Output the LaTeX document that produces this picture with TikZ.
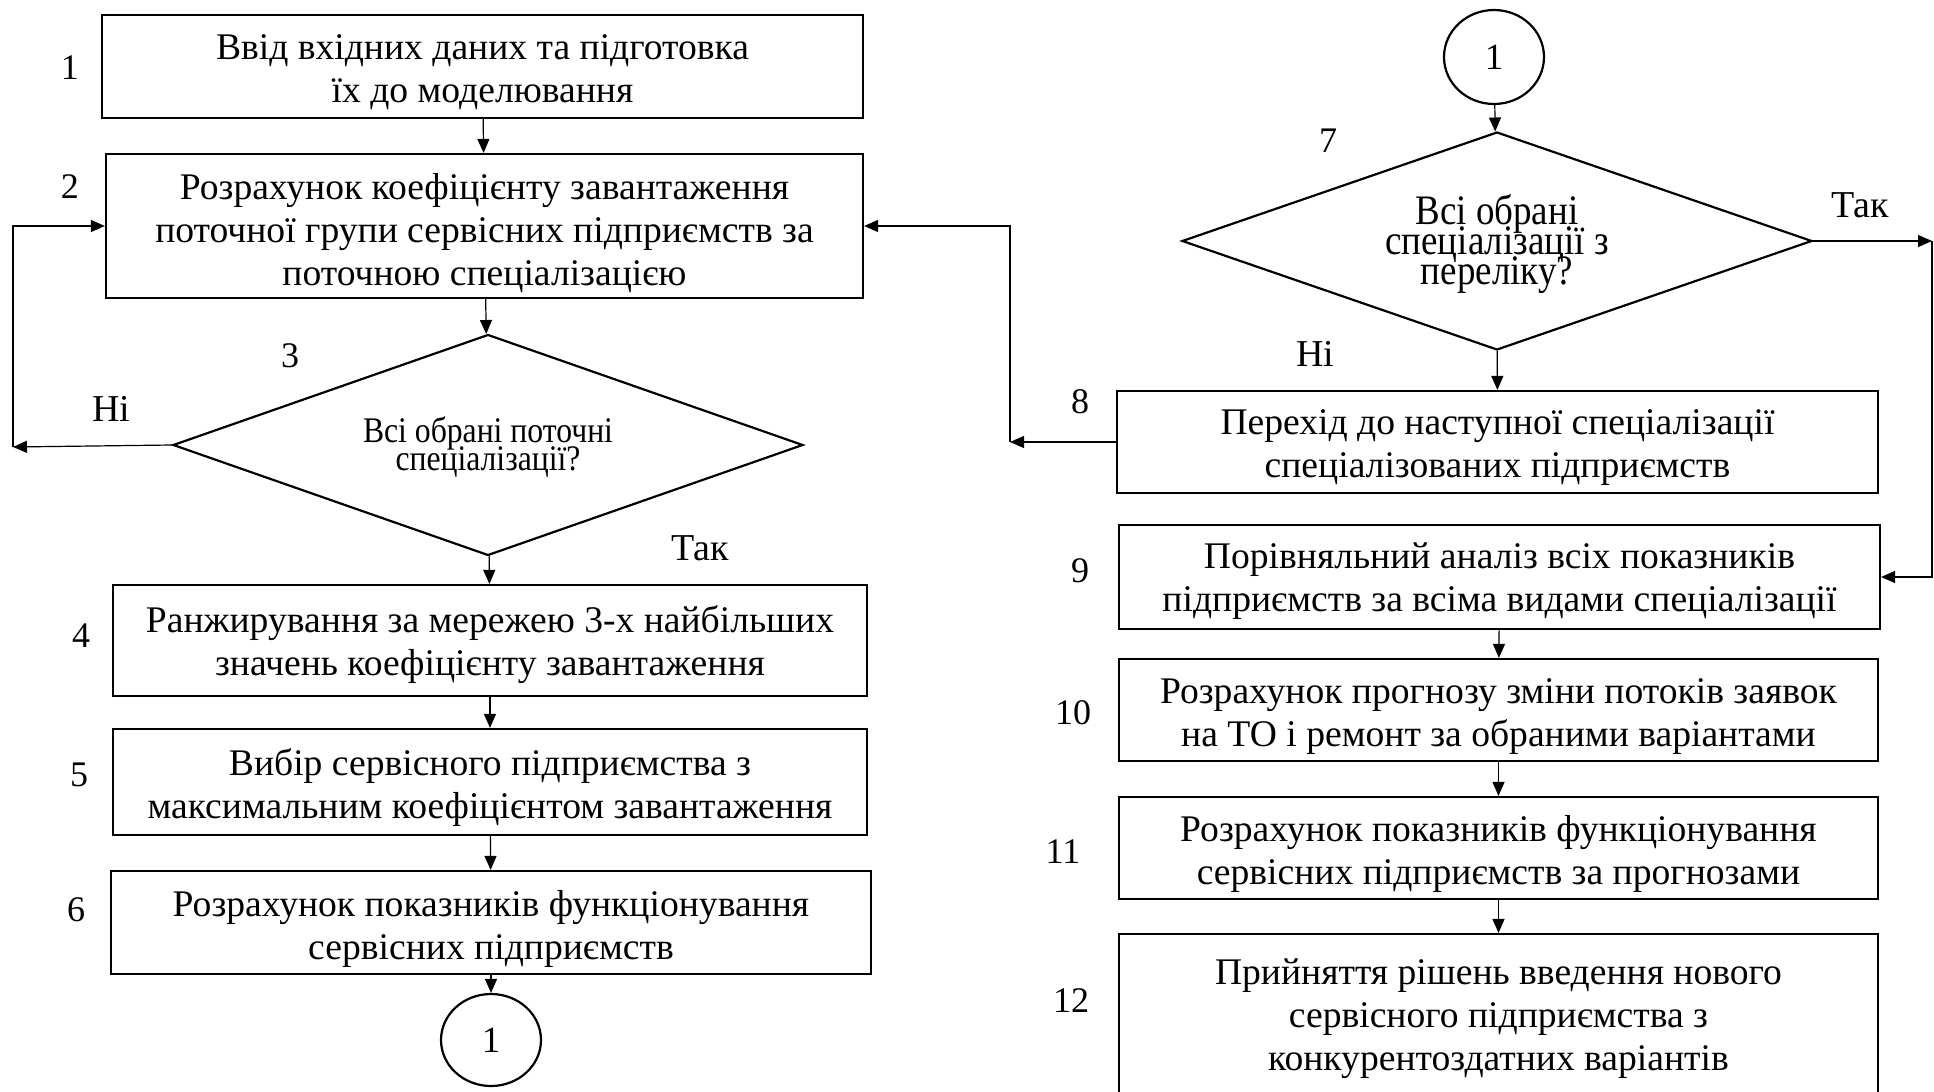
\documentclass[tikz,border=0pt]{standalone}
\usepackage{fontspec}
\setmainfont{Liberation Serif}
\newfontfamily\condfont[FakeStretch=0.88]{Liberation Serif}
\usetikzlibrary{shapes.geometric,arrows.meta,calc}
\newcommand\mytightls{\lineskiplimit=-30pt\relax\lineskip=0pt\relax}
\begin{document}
\begin{tikzpicture}[x=0.5pt,y=-0.5pt,
  box/.style={draw,line width=1.1pt,inner sep=0pt},
  txt/.style={inner sep=0pt,align=center,font=\fontsize{18.8}{21.5}\selectfont},
  dia/.style={draw,diamond,line width=1.1pt,inner sep=0pt,aspect=2.85},
  dtxt/.style={inner sep=0pt,align=center},
  circ/.style={draw,ellipse,line width=1.1pt,inner sep=0pt,font=\fontsize{18.5}{21.5}\selectfont},
  arr/.style={line width=0.6pt,-{Triangle[length=7pt,width=6pt]}},
  num/.style={font=\fontsize{18}{21}\selectfont,inner sep=0pt},
  lbl/.style={font=\fontsize{19}{22}\selectfont,inner sep=0pt}]
\useasboundingbox (0,0) rectangle (1934,1092);
\begin{scope}
\clip (0,0) rectangle (1934,1092);
% left column
\node[box,minimum width=380.5pt,minimum height=51.5pt] (b1) at (482.5,66.5) {};
\node[txt] (b1t) at ($(b1)+(0,6)$) {Ввід вхідних даних та підготовка\\їх до моделювання};
\node[box,minimum width=378.5pt,minimum height=72pt] (b2) at (484.5,226) {};
\node[txt] (b2t) at ($(b2)+(0,7)$) {Розрахунок коефіцієнту завантаження\\поточної групи сервісних підприємств за\\поточною спеціалізацією};
\node[dia,minimum width=315pt,minimum height=110.5pt] (d3) at (488,445) {};
\node[dtxt,font=\condfont\fontsize{18}{14}\selectfont\mytightls] (d3t) at ($(d3)+(0,2)$) {Всі обрані поточні\\спеціалізації?};
\node[box,minimum width=377pt,minimum height=55.5pt] (b4) at (490,640.5) {};
\node[txt] (b4t) at ($(b4)+(0,4)$) {Ранжирування за мережею 3-х найбільших\\значень коефіцієнту завантаження};
\node[box,minimum width=377pt,minimum height=53pt] (b5) at (490,782) {};
\node[txt] (b5t) at ($(b5)+(0,6)$) {Вибір сервісного підприємства з\\максимальним коефіцієнтом завантаження};
\node[box,minimum width=380pt,minimum height=51.5pt] (b6) at (491,922.5) {};
\node[txt] (b6t) at ($(b6)+(0,6)$) {Розрахунок показників функціонування\\сервісних підприємств};
\node[circ,minimum width=50pt,minimum height=46pt] (c1) at (491,1040) {1};
% right column
\node[circ,minimum width=50pt,minimum height=47pt] (c2) at (1494,57) {1};
\node[dia,minimum width=315pt,minimum height=109pt] (d7) at (1497,241) {};
\node[dtxt,font=\condfont\fontsize{21}{15}\selectfont\mytightls] (d7t) at ($(d7)+(0,3)$) {Всі обрані\\спеціалізації з\\переліку?};
\node[box,minimum width=380.5pt,minimum height=51pt] (b8) at (1497.5,442) {};
\node[txt] (b8t) at ($(b8)+(0,6)$) {Перехід до наступної спеціалізації\\спеціалізованих підприємств};
\node[box,minimum width=380.5pt,minimum height=52pt] (b9) at (1499.5,577) {};
\node[txt] (b9t) at ($(b9)+(0,4)$) {Порівняльний аналіз всіх показників\\підприємств за всіма видами спеціалізації};
\node[box,minimum width=379.5pt,minimum height=51pt] (b10) at (1498.5,710) {};
\node[txt] (b10t) at ($(b10)+(0,7)$) {Розрахунок прогнозу зміни потоків заявок\\на ТО і ремонт за обраними варіантами};
\node[box,minimum width=379.5pt,minimum height=51pt] (b11) at (1498.5,848) {};
\node[txt] (b11t) at ($(b11)+(0,6)$) {Розрахунок показників функціонування\\сервісних підприємств за прогнозами};
\node[box,minimum width=379.5pt,minimum height=82pt] (b12) at (1498.5,1016) {};
\node[txt] (b12t) at ($(b12)+(0,3)$) {Прийняття рішень введення нового\\сервісного підприємства з\\конкурентоздатних варіантів};
% numbers
\node[num] (n1) at (70,68) {1};
\node[num] (n2) at (70,187) {2};
\node[num] (n3) at (290,356) {3};
\node[num] (n4) at (81,636) {4};
\node[num] (n5) at (79,775) {5};
\node[num] (n6) at (76,910) {6};
\node[num] (n7) at (1328,141) {7};
\node[num] (n8) at (1080,402) {8};
\node[num] (n9) at (1080,571) {9};
\node[num] (n10) at (1073,713) {10};
\node[num] (n11) at (1063,852) {11};
\node[num] (n12) at (1071,1001) {12};
% labels
\node[lbl] (l1) at (111,409) {Ні};
\node[lbl] (l2) at (700,548) {Так};
\node[lbl] (l3) at (1315,354) {Ні};
\node[lbl] (l4) at (1860,205) {Так};
% coordinates
\coordinate (L1) at (13,447);
\coordinate (R1) at (1010,442);
\coordinate (T1) at (1932,241);
% connectors
\draw[arr] (b1) -- (b2);
\draw[arr] (b2) -- (d3);
\draw[arr] (d3) -- (b4);
\draw[arr] (b4) -- (b5);
\draw[arr] (b5) -- (b6);
\draw[arr] (b6) -- (c1);
\draw[arr] (d3.west) -- (L1);
\draw[arr] (L1) |- (b2.west);
\draw[arr] (c2) -- (d7);
\draw[arr] (d7) -- (b8);
\draw[arr] (b8.west) -- (R1);
\draw[arr] (R1) |- (b2.east);
\draw[arr] (d7.east) -- (T1);
\draw[arr] (T1) |- (b9.east);
\draw[arr] (b9) -- (b10);
\draw[arr] (b10) -- (b11);
\draw[arr] (b11) -- (b12);
\end{scope}
\end{tikzpicture}
\end{document}
